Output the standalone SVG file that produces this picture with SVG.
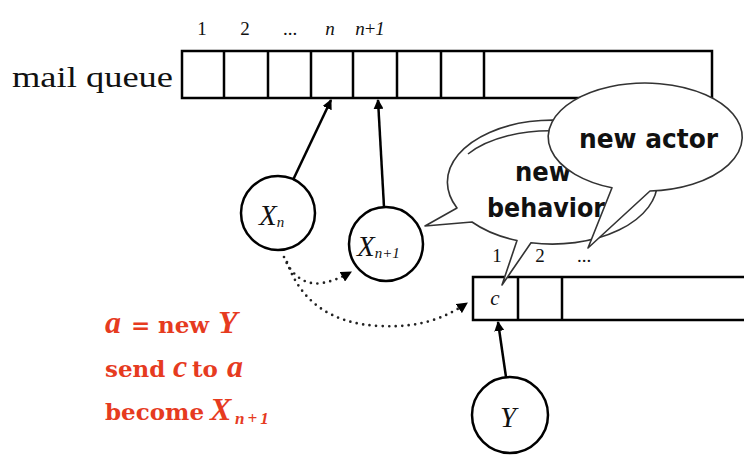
<svg xmlns="http://www.w3.org/2000/svg" width="744" height="455" viewBox="0 0 744 455">
  <defs>
    <marker id="head" viewBox="0 0 10 10" refX="9" refY="5" markerWidth="10" markerHeight="10" markerUnits="userSpaceOnUse" orient="auto">
      <path d="M0,0 L10,5 L0,10 Z" fill="#000"/>
    </marker>
    <marker id="headDot" viewBox="0 0 10 10" refX="9" refY="5" markerWidth="11" markerHeight="11" markerUnits="userSpaceOnUse" orient="auto">
      <path d="M0,0 L10,5 L0,10 Z" fill="#000"/>
    </marker>
    <style>
      .box { fill: #fff; stroke: #000; stroke-width: 2.5; }
      .div { stroke: #000; stroke-width: 2.5; }
      .actor { fill: #fff; stroke: #000; stroke-width: 2.5; }
      .serif { font-family: "Liberation Serif", "DejaVu Serif", serif; fill: #111; }
      .it { font-style: italic; }
      .idx { font-size: 19px; }
      .arrow { fill: none; stroke: #000; stroke-width: 2.5; marker-end: url(#head); }
      .dots { fill: none; stroke: #222; stroke-width: 2.7; stroke-linecap: round; stroke-dasharray: 0 6.5; marker-end: url(#headDot); }
      .bubble { fill: #fff; stroke: #333; stroke-width: 1.6; stroke-linejoin: round; }
      .say { font-family: "DejaVu Sans Condensed", "DejaVu Sans", sans-serif; font-weight: bold; font-size: 27px; fill: #111; }
      .red { fill: #e63b1f; }
      .slab { font-family: "DejaVu Serif", "Liberation Serif", serif; font-weight: bold; font-size: 23px; }
      .rit { font-family: "Liberation Serif", serif; font-style: italic; font-weight: bold; font-size: 32px; }
      .sub { font-family: "Liberation Serif", serif; font-style: italic; font-weight: bold; font-size: 17px; letter-spacing: 3px; }
    </style>
  </defs>

  <!-- mail queue -->
  <g id="mail-queue">
    <text class="serif" x="12" y="87" font-size="29" textLength="161" lengthAdjust="spacingAndGlyphs">mail queue</text>
    <rect class="box" x="182" y="51" width="530" height="47"/>
    <path class="div" d="M224,51V98 M268,51V98 M311,51V98 M353,51V98 M397,51V98 M441,51V98 M484,51V98"/>
    <g class="serif idx" text-anchor="middle">
      <text x="202" y="35">1</text>
      <text x="245" y="35">2</text>
      <text x="290" y="35">...</text>
      <text class="it" x="330" y="35">n</text>
      <text x="370" y="35"><tspan class="it">n</tspan>+<tspan class="it">1</tspan></text>
    </g>
  </g>

  <!-- actor X_n -->
  <g id="actor-xn">
    <circle class="actor" cx="278" cy="213" r="37"/>
    <text class="serif it" x="259" y="225" font-size="29">X<tspan font-size="15" dy="2">n</tspan></text>
  </g>

  <!-- actor X_n+1 -->
  <g id="actor-xn1">
    <circle class="actor" cx="386" cy="244" r="37"/>
    <text class="serif it" x="357" y="256" font-size="29">X<tspan font-size="15" dy="2">n+1</tspan></text>
  </g>

  <!-- actor Y -->
  <g id="actor-y">
    <circle class="actor" cx="510" cy="415" r="38"/>
    <text class="serif it" x="500" y="427" font-size="29">Y</text>
  </g>

  <!-- mail queue of the new actor -->
  <g id="new-queue">
    <rect class="box" x="473" y="277" width="290" height="43"/>
    <path class="div" d="M518,277V320 M562,277V320"/>
    <text class="serif it" x="495" y="305" font-size="21" text-anchor="middle">c</text>
    <g class="serif idx" text-anchor="middle">
      <text x="497" y="262">1</text>
      <text x="540" y="262">2</text>
      <text x="584" y="262">...</text>
    </g>
  </g>

  <!-- connectors -->
  <g id="connectors">
    <path class="arrow" d="M293,180 L331,100"/>
    <path class="arrow" d="M384,207 L378,100"/>
    <path class="arrow" d="M506,377 L498,322"/>
    <path class="dots" d="M284,257 C291,275 305,286 322,283 C334,281 342,277 351,272"/>
    <path class="dots" d="M287,262 C300,300 330,324 380,326 C420,328 445,318 467,303"/>
  </g>

  <!-- speech bubbles -->
  <g id="bubble-behavior">
    <path class="bubble" d="M457,208 A105 62 0 1 1 531,242.8 L502,285 L517,240.5 A105 62 0 0 1 472,222 L425,226 Z"/>
    <path fill="none" stroke="#333" stroke-width="1.6" d="M468,154 A98 51 0 0 1 560,131"/>
    <text class="say" x="543" y="181" text-anchor="middle">new</text>
    <text class="say" x="487" y="217" textLength="118" lengthAdjust="spacingAndGlyphs">behavior</text>
  </g>
  <g id="bubble-actor">
    <path class="bubble" d="M650,191 A97 54 0 1 0 612,187.8 L588,248 Z"/>
    <text class="say" x="579" y="148" textLength="139" lengthAdjust="spacingAndGlyphs">new actor</text>
  </g>

  <!-- behaviour script -->
  <g id="script" class="red">
    <text y="333"><tspan class="rit" x="105">a</tspan><tspan class="slab" x="131">=</tspan><tspan class="slab" x="158">new</tspan><tspan class="rit" x="218" font-size="35">Y</tspan></text>
    <text y="377"><tspan class="slab" x="105">send</tspan><tspan class="rit" x="173">c</tspan><tspan class="slab" x="192">to</tspan><tspan class="rit" x="227">a</tspan></text>
    <text y="420"><tspan class="slab" x="105">become</tspan><tspan class="rit" x="210" font-size="34">X</tspan><tspan class="sub" x="235" dy="4">n+1</tspan></text>
  </g>
</svg>
